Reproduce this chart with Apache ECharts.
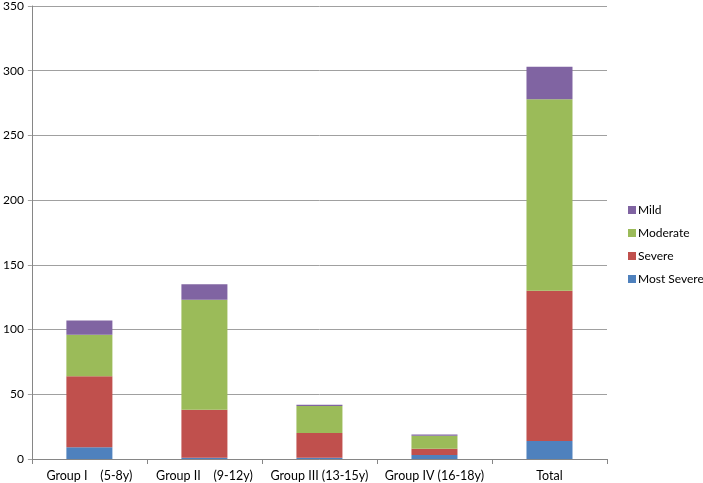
<!DOCTYPE html>
<html>
<head>
<meta charset="utf-8">
<script src="https://cdn.jsdelivr.net/npm/echarts@6/dist/echarts.min.js"></script>
<style>
  html, body { margin: 0; padding: 0; background: #fff; }
  #chart { width: 703px; height: 483px; }
</style>
</head>
<body>
<div id="chart"></div>
<script>
var categories = ['Group I    (5-8y)', 'Group II    (9-12y)', 'Group III (13-15y)', 'Group IV (16-18y)', 'Total'];
var mostSevere = [9, 1, 1, 3, 14];
var severe = [55, 37, 19, 5, 116];
var moderate = [32, 85, 21, 10, 148];
var mild = [11, 12, 1, 1, 25];
var yTicks = [0, 50, 100, 150, 200, 250, 300, 350];

var chart = echarts.init(document.getElementById('chart'));

// helper for one stacked layer
function layer(name, data, color) {
    return {
        name: name,
        type: 'bar',
        stack: 'all',
        barWidth: '40%',
        data: data,
        itemStyle: { color: color }
    };
}

chart.setOption({
    animation: false,
    textStyle: { fontFamily: 'Lato' },
    grid: { left: 31, right: 96, top: 5, bottom: 24 },
    legend: {
        orient: 'vertical',
        left: 623,
        top: 199,
        itemWidth: 8,
        itemHeight: 8,
        itemGap: 11,
        icon: 'rect',
        textStyle: { fontSize: 12, color: '#000', padding: [0, 0, 0, -3] },
        data: ['Mild', 'Moderate', 'Severe', 'Most Severe']
    },
    xAxis: {
        type: 'category',
        data: categories,
        axisLine: { lineStyle: { color: '#868686' } },
        axisTick: { show: true, length: 5, lineStyle: { color: '#868686' } },
        axisLabel: { color: '#000', fontSize: 12.5, margin: 10, interval: 0 }
    },
    yAxis: {
        type: 'value',
        min: yTicks[0],
        max: yTicks[yTicks.length - 1],
        interval: 50,
        axisLine: { show: true, lineStyle: { color: '#868686' } },
        axisTick: { show: true, length: 4, lineStyle: { color: '#A0A0A0' } },
        axisLabel: { color: '#000', fontSize: 12, margin: 8 },
        splitLine: { lineStyle: { color: '#A0A0A0' } }
    },
    series: [
        layer('Most Severe', mostSevere, '#4F81BD'),
        layer('Severe', severe, '#C0504D'),
        layer('Moderate', moderate, '#9BBB59'),
        layer('Mild', mild, '#8064A2')
    ]
});
</script>
</body>
</html>
